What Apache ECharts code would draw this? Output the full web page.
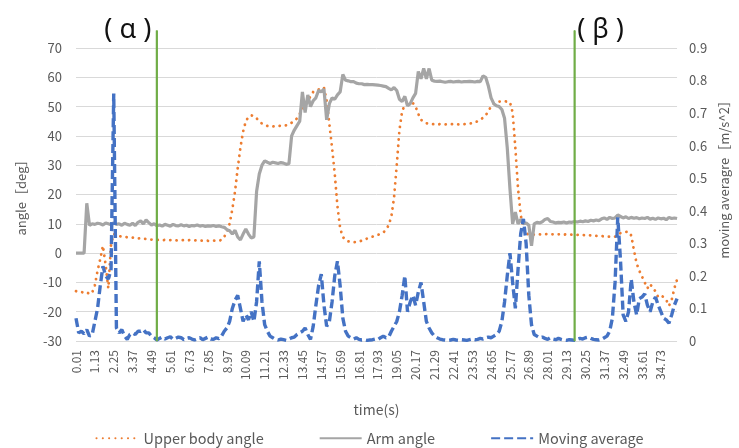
<!DOCTYPE html>
<html>
<head>
<meta charset="utf-8">
<script src="https://cdn.jsdelivr.net/npm/echarts@6/dist/echarts.min.js"></script>
<style>
  html, body { margin: 0; padding: 0; background: #fff; }
  #chart { width: 739px; height: 448px; }
</style>
</head>
<body>
<div id="chart"></div>
<script>
// Sampling grid of the time axis (s): first sample and step, 224 samples
const TIME_START = 0.01;
const TIME_STEP = 0.16;
const SAMPLE_COUNT = 224;

// Upper body angle [deg]
const upperBodyAngle = [
  -13, -13.2, -13.3, -13.5, -13.3, -14, -13.5, -11, -6, -2, 2.5, -4, -12, 3,
  6.5, 6.2, 5.8, 5.6, 5.5, 5.4, 5.2, 5.3, 5, 5, 5.1, 4.9, 4.8, 4.7,
  4.6, 4.6, 4.5, 4.5, 4.4, 4.5, 4.4, 4.4, 4.5, 4.4, 4.3, 4.4, 4.4, 4.3,
  4.4, 4.3, 4.3, 4.4, 4.3, 4.2, 4.3, 4.2, 4.2, 4.3, 4.2, 4.2, 4.5, 5.5,
  7.5, 10, 15, 21, 29, 36, 41.5, 45, 46.5, 47, 46.8, 46, 45, 44.2,
  43.8, 43.4, 43.2, 43.2, 43.3, 43.3, 43.5, 43.4, 43.6, 44, 44.5, 45, 46, 47.5,
  49, 50.5, 52, 53.5, 55, 55.5, 55.8, 56.3, 56.5, 52, 44, 36, 27, 16,
  8.5, 5.5, 4.5, 4, 3.8, 3.7, 3.8, 4, 4.2, 4.5, 5, 5.3, 5.6, 6,
  6.2, 6.6, 7, 8, 9.5, 12.5, 19, 30, 42, 48.5, 50.5, 51, 51, 51.2,
  50, 47.5, 45.5, 44.8, 44.3, 44.1, 44, 44, 43.9, 44, 44, 43.9, 44, 44,
  44, 44, 43.9, 44, 44, 44.1, 44.2, 44.3, 44.6, 45, 45.5, 46.2, 47, 48.5,
  50, 51, 51.5, 51.7, 51.7, 51.8, 51.7, 51.5, 48, 36, 22, 13, 8, 6.8,
  6.3, 6.2, 6.3, 6.4, 6.4, 6.3, 6.4, 6.5, 6.4, 6.4, 6.3, 6.4, 6.4, 6.3,
  6.4, 6.4, 6.3, 6.3, 6.2, 6.3, 6.2, 6.1, 6.2, 6, 6, 5.9, 5.8, 5.8,
  5.7, 5.6, 5.6, 5.5, 5.6, 6.5, 6.8, 7, 7.2, 7.3, 6, 1, -3.5, -6,
  -8, -10, -12, -10.5, -12, -13, -15, -14.5, -15, -16, -18, -16, -12, -9
];

// Arm angle [deg]
const armAngle = [
  0, 0, 0, 0, 17, 9.5, 10, 9.8, 10.2, 10, 9.6, 10.3, 10, 9.7,
  10.3, 9.8, 10, 9.5, 10.2, 9.8, 9.5, 10.2, 9.4, 10.5, 11, 10, 11.3, 10.4,
  9.6, 10, 9.3, 9.6, 9.2, 9.8, 9.5, 9.2, 9.8, 9.4, 9.3, 9.7, 9.3, 9.5,
  9.1, 9.4, 9.3, 9.6, 9.2, 9.4, 9.1, 9.3, 9.2, 9.4, 9.1, 9.3, 9, 8.8,
  8, 7.6, 6.5, 7.8, 5.5, 4.5, 6.5, 8.2, 6.5, 5.2, 5.5, 21, 27, 30,
  31.5, 31, 30.6, 31, 30.8, 30.6, 30.9, 30.7, 30.3, 30.5, 40, 42, 43.5, 45,
  55, 48, 54, 50, 52, 53, 55.5, 55, 56, 45.5, 51, 53, 52.5, 54,
  55, 61, 59, 58.8, 58.5, 58.5, 58, 57.8, 57.8, 57.5, 57.6, 57.5, 57.5, 57.4,
  57.3, 57.2, 57, 56.8, 56.2, 55.7, 56.5, 55.5, 52.5, 51.7, 53.5, 50.3, 51, 53,
  54.5, 62, 59.5, 63, 59.5, 63, 59, 58.7, 58.6, 58.7, 58.5, 58.3, 58.5, 58.6,
  58.4, 58.5, 58.6, 58.4, 58.5, 58.5, 58.6, 58.5, 58.4, 58.6, 58.5, 60.5, 60, 57,
  53, 51, 50.3, 50, 49, 46, 36, 22, 10, 14, 10, 11.5, 10, 10.3,
  9.5, 2.5, 10, 10.5, 10.3, 10.7, 11.5, 11.8, 10.8, 10.6, 10.3, 10.5, 10.4, 10.6,
  10.3, 10.6, 10.5, 10.8, 10.6, 10.9, 10.7, 11, 10.8, 11.2, 11, 11.3, 11.1, 11.7,
  12, 11.5, 12.2, 11.8, 12, 13, 12.5, 12, 12.4, 11.8, 12.2, 11.9, 12.1, 11.7,
  12, 11.8, 12.2, 11.6, 11.9, 11.5, 12, 11.7, 11.9, 11.4, 12.2, 11.8, 12, 11.8
];

// Moving average [m/s^2] (right axis)
const movingAverage = [
  0.07, 0.025, 0.03, 0.022, 0.035, 0.015, 0.02, 0.06, 0.1, 0.17, 0.23, 0.2, 0.19, 0.22,
  0.76, 0.04, 0.025, 0.035, 0.015, 0.005, 0.02, 0.025, 0.02, 0.03, 0.03, 0.035, 0.025, 0.025,
  0.015, 0.01, 0.003, 0.008, 0.012, 0.006, 0.01, 0.013, 0.005, 0.008, 0.012, 0.01, 0.004, 0.008,
  0.01, 0.006, 0.003, 0.006, 0.01, 0.004, 0.008, 0.012, 0.006, 0.005, 0.01, 0.007, 0.015, 0.03,
  0.04, 0.06, 0.1, 0.125, 0.14, 0.1, 0.06, 0.08, 0.065, 0.09, 0.06, 0.12, 0.245, 0.12,
  0.05, 0.03, 0.015, 0.01, 0.005, 0.003, 0.006, 0.004, 0.002, 0.006, 0.01, 0.012, 0.02, 0.025,
  0.03, 0.04, 0.02, 0.005, 0.045, 0.11, 0.17, 0.205, 0.11, 0.045, 0.06, 0.12, 0.2, 0.245,
  0.17, 0.07, 0.03, 0.015, 0.01, 0.006, 0.01, 0.005, 0.003, 0.004, 0.002, 0.003, 0.004, 0.006,
  0.004, 0.01, 0.015, 0.01, 0.012, 0.03, 0.045, 0.06, 0.09, 0.14, 0.2, 0.09, 0.12, 0.14,
  0.11, 0.15, 0.18, 0.12, 0.06, 0.04, 0.025, 0.015, 0.01, 0.006, 0.004, 0.003, 0.002, 0.003,
  0.005, 0.003, 0.002, 0.004, 0.003, 0.002, 0.004, 0.006, 0.004, 0.005, 0.008, 0.006, 0.01, 0.012,
  0.01, 0.015, 0.02, 0.03, 0.06, 0.12, 0.2, 0.27, 0.18, 0.1, 0.22, 0.33, 0.375, 0.3,
  0.14, 0.05, 0.02, 0.015, 0.01, 0.012, 0.008, 0.005, 0.01, 0.006, 0.004, 0.008, 0.005, 0.003,
  0.002, 0.004, 0.003, 0.002, 0.005, 0.008, 0.006, 0.01, 0.012, 0.008, 0.005, 0.004, 0.003, 0.005,
  0.01, 0.015, 0.03, 0.07, 0.18, 0.38, 0.25, 0.08, 0.06, 0.09, 0.19, 0.12, 0.08, 0.13,
  0.135, 0.145, 0.11, 0.09, 0.12, 0.135, 0.11, 0.09, 0.07, 0.065, 0.055, 0.08, 0.11, 0.13
];

// Event markers (time category, s) and their labels
const markerTimes = ['4.81', '29.61'];
const markerLabels = ['( α )', '( β )'];
const markerRange = [-30, 76];

// Axis settings
const leftAxisRange = [-30, 70, 10];
const rightAxisRange = [0, 0.9, 0.1];
const labelEvery = 7;

const timeCategories = [];
for (let i = 0; i < SAMPLE_COUNT; i++) {
  timeCategories.push((TIME_START + TIME_STEP * i).toFixed(2));
}

const FONT = "'Noto Sans CJK JP', 'Noto Sans', sans-serif";
const TXT = '#595959';

const chart = echarts.init(document.getElementById('chart'), null, { renderer: 'canvas' });

function markerSeries(k, pos) {
  return {
    name: 'marker' + k,
    type: 'line',
    xAxisIndex: 0,
    yAxisIndex: 0,
    clip: false,
    silent: true,
    symbol: 'circle',
    symbolSize: 1,
    showSymbol: true,
    z: 10,
    itemStyle: { color: '#70AD47' },
    lineStyle: { color: '#70AD47', width: 2.2 },
    data: [
      [markerTimes[k], markerRange[0]],
      {
        value: [markerTimes[k], markerRange[1]],
        label: {
          show: true,
          position: pos,
          distance: pos === 'left' ? 5 : 2,
          formatter: markerLabels[k],
          fontSize: 27,
          color: '#111',
          fontFamily: "'Noto Sans', sans-serif"
        }
      }
    ]
  };
}

chart.setOption({
  animation: false,
  backgroundColor: '#fff',
  textStyle: { fontFamily: FONT },
  grid: { left: 76, right: 54, top: 48, bottom: 107, containLabel: false },
  legend: {
    data: ['Upper body angle', 'Arm angle', 'Moving average'],
    top: 426,
    left: 'center',
    itemWidth: 42,
    itemHeight: 10,
    itemGap: 55,
    itemStyle: { opacity: 0 },
    textStyle: { color: TXT, fontSize: 14.5, fontFamily: FONT }
  },
  xAxis: {
    type: 'category',
    data: timeCategories,
    boundaryGap: false,
    name: 'time(s)',
    nameLocation: 'middle',
    nameGap: 62,
    nameTextStyle: { color: TXT, fontSize: 14, fontFamily: FONT },
    axisLine: { show: false },
    axisTick: { show: false },
    splitLine: { show: false },
    axisLabel: {
      interval: labelEvery - 1,
      rotate: 90,
      color: TXT,
      fontSize: 12,
      margin: 9,
      fontFamily: FONT
    }
  },
  yAxis: [
    {
      type: 'value',
      min: leftAxisRange[0],
      max: leftAxisRange[1],
      interval: leftAxisRange[2],
      name: 'angle［deg］',
      nameLocation: 'middle',
      nameGap: 48,
      nameTextStyle: { color: TXT, fontSize: 13, fontFamily: FONT },
      axisLine: { show: false },
      axisTick: { show: false },
      axisLabel: { color: TXT, fontSize: 13, margin: 14, fontFamily: FONT },
      splitLine: { lineStyle: { color: '#D9D9D9', width: 1 } }
    },
    {
      type: 'value',
      min: rightAxisRange[0],
      max: rightAxisRange[1],
      interval: rightAxisRange[2],
      name: 'moving averagre［m/s^2］',
      nameLocation: 'middle',
      nameGap: 36,
      nameRotate: 90,
      nameTextStyle: { color: TXT, fontSize: 13, fontFamily: FONT, padding: [0, 0, 0, 36] },
      axisLine: { show: false },
      axisTick: { show: false },
      axisLabel: {
        color: TXT, fontSize: 13, margin: 12, fontFamily: FONT,
        formatter: v => (v === 0 ? '0' : v.toFixed(1))
      },
      splitLine: { show: false }
    }
  ],
  series: [
    {
      name: 'Upper body angle',
      type: 'line',
      yAxisIndex: 0,
      symbol: 'none',
      z: 2,
      itemStyle: { color: '#ED7D31' },
      lineStyle: { color: '#ED7D31', width: 2.8, type: [0.1, 6.2], cap: 'round' },
      data: upperBodyAngle
    },
    {
      name: 'Arm angle',
      type: 'line',
      yAxisIndex: 0,
      symbol: 'none',
      z: 3,
      itemStyle: { color: '#A5A5A5' },
      lineStyle: { color: '#A5A5A5', width: 3.2 },
      data: armAngle
    },
    {
      name: 'Moving average',
      type: 'line',
      yAxisIndex: 1,
      symbol: 'none',
      z: 4,
      itemStyle: { color: '#4472C4' },
      lineStyle: { color: '#4472C4', width: 3.4, type: [9, 4] },
      data: movingAverage
    },
    markerSeries(0, 'left'),
    markerSeries(1, 'right')
  ]
});
</script>
</body>
</html>
